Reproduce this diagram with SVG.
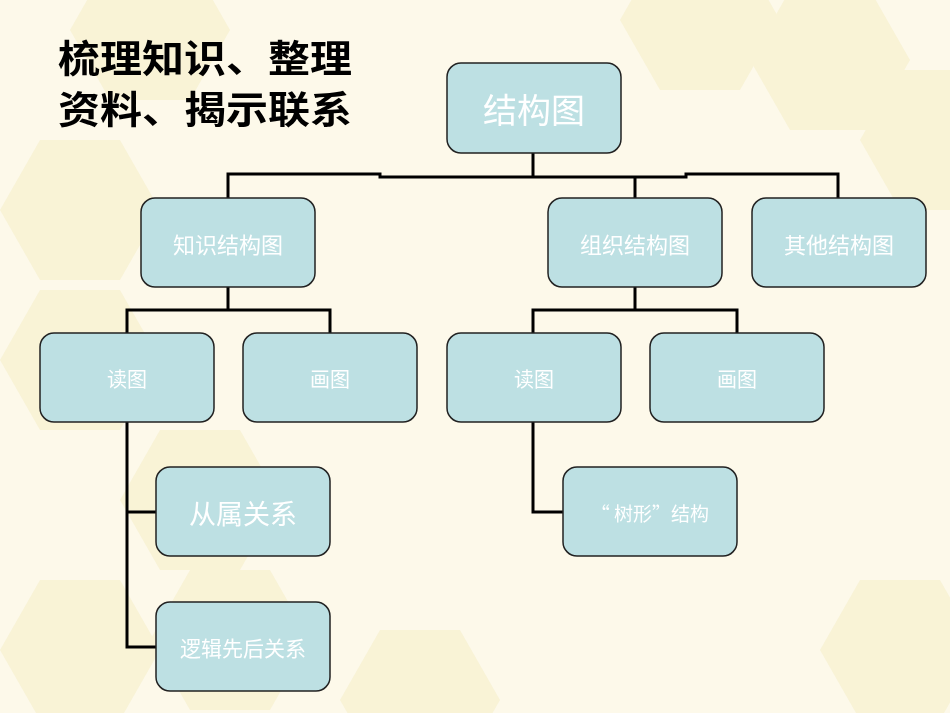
<svg xmlns="http://www.w3.org/2000/svg" width="950" height="713" viewBox="0 0 950 713">
<style>
.n rect{fill:#bde0e3;stroke:#222;stroke-width:1.5}
.n text{fill:#fff;font-family:"Noto Sans CJK SC",sans-serif;text-anchor:middle;dominant-baseline:central}
.c path{fill:none;stroke:#000;stroke-width:3}
.hx{fill:#f3ebba;opacity:.4}
.t{font-family:"Noto Sans CJK SC",sans-serif;font-size:38px;font-weight:bold;fill:#000}
</style>
<defs><polygon id="h" points="-40,-70 40,-70 80,0 40,70 -40,70 -80,0"/></defs>
<rect width="950" height="713" fill="#fdf9ea"/>
<g class="hx">
<use href="#h" x="80" y="210"/><use href="#h" x="80" y="360"/><use href="#h" x="200" y="500"/><use href="#h" x="80" y="650"/><use href="#h" x="230" y="640"/><use href="#h" x="420" y="700"/>
<use href="#h" x="700" y="20"/><use href="#h" x="830" y="60"/><use href="#h" x="940" y="140"/><use href="#h" x="900" y="650"/><use href="#h" x="150" y="30"/>
</g>
<text class="t" x="58" y="72" textLength="294" lengthAdjust="spacingAndGlyphs">梳理知识、整理</text>
<text class="t" x="58" y="123" textLength="294" lengthAdjust="spacingAndGlyphs">资料、揭示联系</text>
<g class="c">
<path d="M533,153V176M228,198V174H380V177H686V174H838V198M635,177V198"/>
<path d="M228,287V310M127,333V310H330V333"/>
<path d="M635,287V310M533,333V310H737V333"/>
<path d="M127,422V647H156M127,512H156"/>
<path d="M533,422V512H563"/>
</g>
<g class="n" id="root"><rect x="447" y="63" width="174" height="90" rx="14"/><text x="534" y="108" font-size="34">结构图</text></g>
<g class="n" id="zs"><rect x="141" y="198" width="174" height="89" rx="14"/><text x="228" y="243" font-size="22">知识结构图</text></g>
<g class="n" id="zz"><rect x="548" y="198" width="174" height="89" rx="14"/><text x="635" y="243" font-size="22">组织结构图</text></g>
<g class="n" id="qt"><rect x="752" y="198" width="174" height="89" rx="14"/><text x="839" y="243" font-size="22">其他结构图</text></g>
<g class="n" id="dt1"><rect x="40" y="333" width="174" height="89" rx="14"/><text x="127" y="378" font-size="20">读图</text></g>
<g class="n" id="ht1"><rect x="243" y="333" width="174" height="89" rx="14"/><text x="330" y="378" font-size="20">画图</text></g>
<g class="n" id="dt2"><rect x="447" y="333" width="174" height="89" rx="14"/><text x="534" y="378" font-size="20">读图</text></g>
<g class="n" id="ht2"><rect x="650" y="333" width="174" height="89" rx="14"/><text x="737" y="378" font-size="20">画图</text></g>
<g class="n" id="cs"><rect x="156" y="467" width="174" height="89" rx="14"/><text x="243" y="512" font-size="27">从属关系</text></g>
<g class="n" id="lj"><rect x="156" y="602" width="174" height="89" rx="14"/><text x="243" y="647" font-size="21">逻辑先后关系</text></g>
<g class="n" id="sx"><rect x="563" y="467" width="174" height="89" rx="14"/><text x="650" y="512" font-size="19">“ 树形”结构</text></g>
</svg>
